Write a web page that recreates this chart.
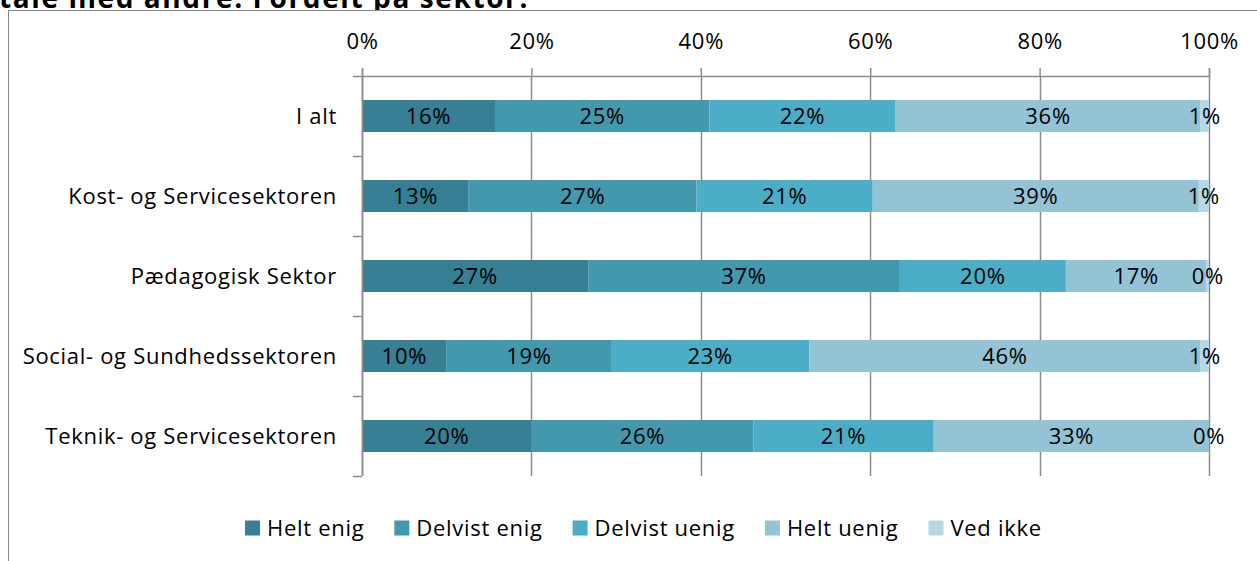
<!DOCTYPE html>
<html>
<head>
<meta charset="utf-8">
<script src="https://cdn.jsdelivr.net/npm/d3@7"></script>
<style>
  html, body { margin: 0; padding: 0; background: #fff; }
  svg { display: block; font-family: "Open Sans", "Noto Sans", sans-serif; }
  svg text { letter-spacing: 0.7px; }
</style>
</head>
<body>
<div id="chart"></div>
<script>
const categories = [
  'I alt',
  'Kost- og Servicesektoren',
  'Pædagogisk Sektor',
  'Social- og Sundhedssektoren',
  'Teknik- og Servicesektoren',
];
const seriesNames = ['Helt enig', 'Delvist enig', 'Delvist uenig', 'Helt uenig', 'Ved ikke'];
// percent per category, in the order of seriesNames
const heltEnig = [15.7, 12.6, 26.7, 10.0, 20.0];
const delvistEnig = [25.3, 26.9, 36.8, 19.4, 26.2];
const delvistUenig = [22.0, 20.8, 19.6, 23.4, 21.3];
const heltUenig = [36.0, 38.5, 16.6, 46.2, 32.5];
const vedIkke = [1.0, 1.2, 0.3, 1.0, 0.0];
const tickValues = [0, 20, 40, 60, 80, 100];
const colors = ['#377f94', '#4398ae', '#4badc6', '#93c3d5', '#b8d6e3'];

const width = 1257;
const height = 561;
const margin = { left: 362, right: 48, top: 76, bottom: 85 };
const fontSize = 22;

const svg = d3
  .select('#chart')
  .append('svg')
  .attr('width', width)
  .attr('height', height);

// title, cut off by the top of the frame
svg
  .append('text')
  .attr('x', -1)
  .attr('y', 8)
  .attr('font-size', 28)
  .attr('font-weight', 'bold')
  .style('letter-spacing', '1.6px')
  .attr('fill', '#000')
  .text('tale med andre: Fordelt på sektor.');

// chart frame
svg
  .append('rect')
  .attr('x', 8.5)
  .attr('y', 10.5)
  .attr('width', 1300)
  .attr('height', 600)
  .attr('fill', '#fff')
  .attr('stroke', '#888');

const x = d3
  .scaleLinear()
  .domain([0, 100])
  .range([margin.left, width - margin.right]);
const y = d3
  .scaleBand()
  .domain(categories)
  .range([margin.top, height - margin.bottom])
  .paddingInner(0.6)
  .paddingOuter(0.3);

const series = [heltEnig, delvistEnig, delvistUenig, heltUenig, vedIkke];
const rows = categories.map((c, i) => {
  const row = { category: c };
  seriesNames.forEach((s, j) => (row[s] = series[j][i]));
  return row;
});
const stacked = d3.stack().keys(seriesNames)(rows);

// grid lines
svg
  .append('g')
  .selectAll('line')
  .data(tickValues)
  .join('line')
  .attr('x1', (d) => Math.round(x(d)) + 0.5)
  .attr('x2', (d) => Math.round(x(d)) + 0.5)
  .attr('y1', margin.top)
  .attr('y2', height - margin.bottom)
  .attr('stroke', '#8c8c8c')
  .attr('stroke-width', 1.5);

// bars
const layers = svg
  .append('g')
  .selectAll('g')
  .data(stacked)
  .join('g')
  .attr('fill', (d, i) => colors[i]);

layers
  .selectAll('rect')
  .data((d) => d)
  .join('rect')
  .attr('x', (d) => x(d[0]))
  .attr('width', (d) => x(d[1]) - x(d[0]))
  .attr('y', (d) => y(d.data.category))
  .attr('height', y.bandwidth());

// value labels
layers
  .selectAll('text')
  .data((d) => d)
  .join('text')
  .attr('x', (d) => (x(d[0]) + x(d[1])) / 2)
  .attr('y', (d) => y(d.data.category) + y.bandwidth() / 2)
  .attr('dy', '0.36em')
  .attr('text-anchor', 'middle')
  .attr('font-size', fontSize)
  .attr('fill', '#000')
  .text((d) => Math.round(d[1] - d[0]) + '%');

// top axis
const topAxis = svg
  .append('g')
  .attr('transform', `translate(0,${margin.top})`)
  .call(
    d3
      .axisTop(x)
      .tickValues(tickValues)
      .tickSize(8)
      .tickPadding(19)
      .tickFormat((d) => d + '%')
  );
topAxis.select('.domain').attr('stroke', '#8c8c8c').attr('stroke-width', 1.5);
topAxis.selectAll('line').attr('stroke', '#8c8c8c').attr('stroke-width', 1.5);
topAxis
  .selectAll('text')
  .attr('font-size', fontSize)
  .attr('font-family', '"Open Sans", "Noto Sans", sans-serif')
  .attr('fill', '#000');

// left axis, ticks between categories
const bandEdges = categories.map((c) => y(c) - (y.step() * y.paddingInner()) / 2);
bandEdges.push(height - margin.bottom);
const leftAxis = svg.append('g');
leftAxis
  .append('line')
  .attr('x1', margin.left + 0.5)
  .attr('x2', margin.left + 0.5)
  .attr('y1', margin.top)
  .attr('y2', height - margin.bottom)
  .attr('stroke', '#8c8c8c')
  .attr('stroke-width', 1.5);
leftAxis
  .selectAll('.tick')
  .data(bandEdges)
  .join('line')
  .attr('x1', margin.left - 9)
  .attr('x2', margin.left)
  .attr('y1', (d) => Math.round(d) + 0.5)
  .attr('y2', (d) => Math.round(d) + 0.5)
  .attr('stroke', '#8c8c8c')
  .attr('stroke-width', 1.5);
leftAxis
  .selectAll('text')
  .data(categories)
  .join('text')
  .attr('x', margin.left - 25)
  .attr('y', (d) => y(d) + y.bandwidth() / 2)
  .attr('dy', '0.36em')
  .attr('text-anchor', 'end')
  .attr('font-size', fontSize)
  .attr('fill', '#000')
  .text((d) => d);

// legend
const legend = svg.append('g').attr('transform', `translate(0,528)`);
const items = legend
  .selectAll('g')
  .data(seriesNames)
  .join('g');
items
  .append('rect')
  .attr('y', -7.5)
  .attr('width', 15)
  .attr('height', 15)
  .attr('fill', (d, i) => colors[i]);
items
  .append('text')
  .attr('x', 22)
  .attr('dy', '0.36em')
  .attr('font-size', fontSize)
  .attr('fill', '#000')
  .text((d) => d);

let offset = 0;
const offsets = [];
items.each(function () {
  offsets.push(offset);
  offset += 22 + this.querySelector('text').getComputedTextLength() + 30;
});
const legendStart = 245;
items.attr('transform', (d, i) => `translate(${legendStart + offsets[i]},0)`);
</script>
</body>
</html>
